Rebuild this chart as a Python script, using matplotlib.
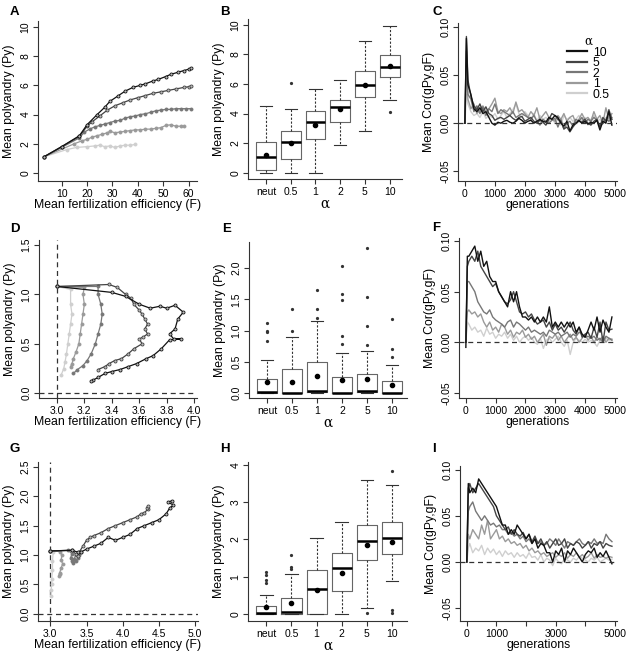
import matplotlib
matplotlib.use("Agg")
import matplotlib.pyplot as plt

plt.rcParams['font.family'] = ['Liberation Sans', 'DejaVu Sans']

W, H = 633, 656

alphas = ["10", "5", "2", "1", "0.5"]
colours = {"10": "#111111", "5": "#444444", "2": "#777777", "1": "#9a9a9a", "0.5": "#cfcfcf"}
groups = ["neut", "0.5", "1", "2", "5", "10"]

# ---------------- A : polyandry vs fertilization efficiency ----------------
a_F = {
    "10": [3, 10, 17, 20, 24, 27, 29, 32, 35, 38, 41, 43, 46, 48, 51, 53, 56, 58, 60, 61],
    "5": [3, 10, 17, 20, 22, 25, 28, 31, 34, 37, 40, 43, 46, 49, 52, 55, 58, 60, 61],
    "2": [3, 17, 19, 21, 23, 25, 27, 29, 31, 33, 35, 37, 39, 41, 43, 45, 47, 49, 51, 53, 55, 57, 59, 61],
    "1": [3, 15, 18, 20, 22, 24, 26, 28, 29, 31, 33, 35, 37, 39, 41, 43, 45, 47, 49, 51, 53, 55, 57, 58],
    "0.5": [3, 12, 16, 20, 23, 25, 27, 29, 31, 33, 35, 37, 39],
}
a_Py = {
    "10": [1.1, 1.8, 2.55, 3.3, 4.0, 4.5, 4.9, 5.25, 5.6, 5.85, 6.0, 6.1, 6.3, 6.4, 6.6, 6.75, 6.9, 7.0, 7.1, 7.15],
    "5": [1.1, 1.8, 2.5, 3.2, 3.5, 3.9, 4.3, 4.6, 4.8, 5.0, 5.15, 5.3, 5.45, 5.55, 5.65, 5.75, 5.85, 5.9, 5.95],
    "2": [1.1, 2.4, 2.8, 3.0, 3.15, 3.25, 3.35, 3.45, 3.55, 3.6, 3.75, 3.85, 3.9, 4.0, 4.05, 4.15, 4.25, 4.3,
          4.35, 4.35, 4.4, 4.4, 4.4, 4.4],
    "1": [1.1, 2.0, 2.2, 2.3, 2.45, 2.55, 2.65, 2.75, 2.85, 2.75, 2.8, 2.85, 2.9, 2.95, 2.95, 3.0, 3.0, 3.05,
          3.1, 3.25, 3.3, 3.2, 3.2, 3.2],
    "0.5": [1.1, 1.6, 1.75, 1.8, 1.85, 1.9, 1.8, 1.85, 1.75, 1.85, 1.9, 1.9, 1.95],
}

# ---------------- D and G : trajectories ----------------
d_F = {
    "0.5": [3.0, 3.1, 3.1, 3.11, 3.1, 3.09, 3.08, 3.07, 3.06, 3.05, 3.03],
    "1": [3.0, 3.2, 3.19, 3.2, 3.19, 3.18, 3.17, 3.16, 3.14, 3.12, 3.11, 3.10],
    "2": [3.0, 3.3, 3.3, 3.32, 3.33, 3.32, 3.3, 3.28, 3.25, 3.22, 3.19, 3.15, 3.12],
    "5": [3.0, 3.38, 3.44, 3.5, 3.54, 3.56, 3.6, 3.62, 3.64, 3.66, 3.64, 3.66, 3.63, 3.6, 3.62, 3.56, 3.52,
          3.47, 3.42, 3.38, 3.35, 3.3],
    "10": [3.0, 3.4, 3.5, 3.6, 3.68, 3.75, 3.8, 3.86, 3.92, 3.88, 3.86, 3.82, 3.85, 3.9, 3.82, 3.76, 3.7,
           3.65, 3.58, 3.52, 3.46, 3.4, 3.35, 3.3, 3.26, 3.25],
}
d_Py = {
    "0.5": [1.08, 1.05, 0.9, 0.8, 0.7, 0.6, 0.5, 0.4, 0.32, 0.25, 0.18],
    "1": [1.08, 1.07, 1.0, 0.9, 0.8, 0.7, 0.6, 0.5, 0.42, 0.35, 0.3, 0.27],
    "2": [1.08, 1.08, 1.0, 0.9, 0.8, 0.7, 0.6, 0.5, 0.4, 0.33, 0.28, 0.24, 0.2],
    "5": [1.08, 1.1, 1.07, 1.0, 0.96, 0.9, 0.84, 0.8, 0.75, 0.7, 0.65, 0.6, 0.57, 0.55, 0.5, 0.45, 0.4,
          0.35, 0.33, 0.3, 0.27, 0.24],
    "10": [1.08, 1.02, 0.98, 0.9, 0.86, 0.88, 0.86, 0.89, 0.82, 0.75, 0.65, 0.6, 0.55, 0.55, 0.54, 0.45,
           0.38, 0.35, 0.3, 0.27, 0.24, 0.22, 0.2, 0.16, 0.13, 0.12],
}
g_F = {
    "0.5": [3.0, 3.04, 3.03, 3.03, 3.02, 3.02, 3.01, 3.01],
    "1": [3.0, 3.13, 3.16, 3.15, 3.17, 3.15, 3.13, 3.12, 3.14],
    "2": [3.0, 3.25, 3.3, 3.28, 3.3, 3.32, 3.35, 3.38, 3.4, 3.42, 3.35, 3.33],
    "5": [3.0, 3.3, 3.35, 3.38, 3.4, 3.45, 3.5, 3.55, 3.6, 3.7, 3.8, 3.9, 4.0, 4.1, 4.2, 4.25, 4.3, 4.35,
          4.33, 4.35],
    "10": [3.0, 3.3, 3.38, 3.42, 3.5, 3.6, 3.7, 3.8, 3.9, 4.0, 4.1, 4.2, 4.3, 4.4, 4.5, 4.6, 4.65, 4.7,
           4.62, 4.68],
}
g_Py = {
    "0.5": [1.07, 1.05, 0.9, 0.75, 0.6, 0.5, 0.4, 0.3],
    "1": [1.07, 1.06, 1.0, 0.92, 0.85, 0.78, 0.7, 0.65, 0.68],
    "2": [1.07, 1.08, 1.02, 0.95, 0.9, 0.86, 0.9, 0.95, 1.0, 1.05, 1.0, 0.93],
    "5": [1.07, 1.08, 1.02, 0.98, 1.05, 1.15, 1.25, 1.3, 1.33, 1.38, 1.45, 1.5, 1.55, 1.6, 1.65, 1.7, 1.72,
          1.78, 1.8, 1.83],
    "10": [1.07, 1.08, 1.05, 1.05, 1.1, 1.15, 1.2, 1.3, 1.25, 1.3, 1.35, 1.45, 1.5, 1.55, 1.6, 1.7, 1.8,
           1.85, 1.9, 1.92],
}

# ---------------- B, E, H : boxplot summaries ----------------
# (whisker low, q1, median, q3, whisker high, mean, outliers)
b_stats = [
    (0, 0.2, 1.05, 2.05, 4.5, 1.2, []),
    (0, 0.9, 2.05, 2.85, 4.3, 2.0, [6.05]),
    (0, 2.3, 3.45, 4.2, 5.65, 3.2, []),
    (1.85, 3.4, 4.45, 4.9, 6.25, 4.3, []),
    (2.85, 5.15, 5.9, 6.9, 8.9, 5.95, []),
    (4.9, 6.5, 7.15, 7.95, 9.9, 7.2, [4.1]),
]
e_stats = [
    (0, 0.0, 0.01, 0.23, 0.53, 0.18, [0.83, 0.97, 1.0, 1.12]),
    (0, 0.0, 0.0, 0.38, 0.9, 0.18, [1.0, 1.35]),
    (0, 0.01, 0.04, 0.49, 1.15, 0.28, [1.2, 1.35, 1.65]),
    (0, 0.0, 0.0, 0.26, 0.64, 0.21, [0.79, 0.92, 1.49, 1.58, 2.03]),
    (0, 0.01, 0.04, 0.3, 0.67, 0.23, [0.77, 1.07, 1.54, 2.33]),
    (0, 0.0, 0.0, 0.19, 0.45, 0.13, [0.58, 0.7, 1.18]),
]
h_stats = [
    (0, 0.0, 0.02, 0.22, 0.52, 0.18, [0.83, 0.9, 1.05, 1.12]),
    (0, 0.0, 0.05, 0.44, 1.08, 0.28, [1.2, 1.27, 1.58]),
    (0, 0.0, 0.68, 1.17, 2.03, 0.65, []),
    (0, 0.62, 1.22, 1.64, 2.48, 1.09, []),
    (0.17, 1.46, 1.97, 2.39, 3.6, 1.85, [0.02]),
    (0.88, 1.62, 2.04, 2.46, 3.45, 1.93, [3.85, 0.1, 0.02]),
]

# ---------------- C, F, I : correlation through time ----------------
gens = [0, 50] + list(range(100, 5000, 100))
c_cor = {
    "10": [0.000, 0.088, 0.040, 0.030, 0.015, 0.012, 0.016, 0.010, 0.012, 0.006,
           0.000, -0.002, 0.001, 0.000, 0.002, 0.003, 0.001, 0.000, 0.002, 0.005,
           0.003, 0.000, 0.002, 0.003, 0.000, 0.002, 0.004, 0.002, 0.001, 0.006,
           0.004, 0.008, 0.006, 0.000, -0.003, 0.002, -0.008, -0.002, 0.000, 0.003,
           0.000, 0.002, -0.001, 0.001, 0.000, 0.003, -0.007, 0.002, 0.000, 0.012,
           -0.002],
    "5": [0.000, 0.090, 0.045, 0.028, 0.018, 0.014, 0.020, 0.012, 0.017, 0.010,
          0.008, 0.003, 0.005, 0.006, 0.004, 0.006, 0.008, 0.005, 0.003, 0.006,
          0.007, 0.002, 0.004, 0.006, 0.002, 0.000, 0.003, 0.001, -0.002, 0.004,
          0.010, 0.008, 0.004, 0.002, -0.006, -0.004, -0.009, -0.004, 0.000, 0.002,
          0.001, 0.004, 0.000, -0.002, 0.002, 0.004, -0.004, 0.006, 0.002, 0.014,
          0.004],
    "2": [0.000, 0.075, 0.030, 0.025, 0.012, 0.018, 0.010, 0.017, 0.008, 0.015,
          0.012, 0.020, 0.010, 0.014, 0.012, 0.010, 0.008, 0.012, 0.006, 0.008,
          0.010, 0.008, 0.006, 0.004, 0.008, 0.002, -0.002, 0.004, 0.002, 0.000,
          0.003, 0.005, -0.004, 0.004, -0.006, 0.000, 0.002, -0.003, 0.004, 0.002,
          0.006, 0.000, 0.004, 0.002, 0.006, 0.003, -0.003, 0.000, 0.004, 0.002,
          0.006],
    "1": [0.000, 0.060, 0.025, 0.015, 0.020, 0.010, 0.014, 0.018, 0.012, 0.015,
          0.020, 0.026, 0.012, 0.010, 0.014, 0.012, 0.016, 0.010, 0.022, 0.012,
          0.014, 0.010, 0.006, 0.012, 0.008, 0.016, 0.004, 0.008, 0.012, 0.006,
          0.004, 0.002, 0.008, 0.004, 0.010, 0.002, 0.006, 0.008, 0.000, 0.004,
          0.010, 0.004, 0.006, 0.002, 0.012, 0.004, 0.008, 0.000, 0.016, 0.004,
          0.010],
    "0.5": [0.000, 0.030, 0.020, 0.012, 0.008, 0.010, 0.006, 0.012, 0.005, 0.008,
            0.006, 0.010, 0.004, 0.008, 0.012, 0.006, 0.010, 0.014, 0.020, 0.010,
            0.006, 0.012, 0.008, 0.004, 0.010, 0.002, 0.008, 0.004, 0.006, 0.002,
            0.006, 0.000, 0.004, -0.002, 0.008, 0.004, 0.006, 0.002, 0.004, 0.008,
            0.002, 0.006, -0.002, 0.004, 0.008, 0.002, 0.004, 0.000, 0.006, 0.002,
            0.004],
}
f_cor = {
    "10": [-0.005, 0.085, 0.085, 0.090, 0.095, 0.080, 0.090, 0.075, 0.080, 0.065,
           0.060, 0.060, 0.050, 0.045, 0.040, 0.035, 0.050, 0.040, 0.050, 0.035,
           0.025, 0.025, 0.022, 0.025, 0.020, 0.025, 0.020, 0.025, 0.020, 0.035,
           0.015, 0.020, 0.015, 0.020, 0.015, 0.020, 0.015, 0.020, 0.010, 0.015,
           0.008, 0.005, 0.012, 0.020, 0.012, 0.025, 0.010, 0.022, 0.015, 0.010,
           0.025],
    "5": [0.000, 0.075, 0.080, 0.085, 0.080, 0.090, 0.075, 0.070, 0.065, 0.060,
          0.055, 0.058, 0.050, 0.045, 0.040, 0.038, 0.042, 0.050, 0.040, 0.030,
          0.028, 0.030, 0.025, 0.028, 0.022, 0.018, 0.020, 0.022, 0.015, 0.020,
          0.012, 0.018, 0.012, 0.015, 0.010, 0.015, 0.020, 0.012, 0.008, 0.015,
          0.005, 0.008, 0.010, 0.004, 0.015, 0.005, 0.020, 0.000, 0.020, 0.012,
          0.013],
    "2": [0.000, 0.060, 0.060, 0.055, 0.050, 0.040, 0.035, 0.030, 0.028, 0.032,
          0.025, 0.022, 0.020, 0.018, 0.015, 0.020, 0.022, 0.015, 0.020, 0.018,
          0.015, 0.012, 0.015, 0.010, 0.012, 0.010, 0.008, 0.010, 0.006, 0.012,
          0.010, 0.008, 0.010, 0.006, 0.008, 0.010, 0.005, 0.008, 0.006, 0.010,
          0.008, 0.005, 0.006, 0.004, 0.006, 0.002, 0.004, 0.000, 0.006, 0.004,
          0.002],
    "1": [0.000, 0.030, 0.032, 0.028, 0.030, 0.025, 0.028, 0.020, 0.015, 0.020,
          0.012, 0.015, 0.010, 0.018, 0.015, 0.008, 0.012, 0.005, 0.010, 0.008,
          0.012, 0.005, 0.008, 0.003, 0.006, 0.000, 0.004, 0.008, -0.003, 0.006,
          0.004, 0.008, 0.002, 0.006, 0.000, 0.004, 0.008, 0.002, 0.005, 0.000,
          0.004, 0.008, 0.002, 0.006, 0.000, 0.005, 0.002, 0.006, 0.000, 0.004,
          0.003],
    "0.5": [0.000, 0.020, 0.018, 0.012, 0.015, 0.010, 0.012, 0.006, 0.014, 0.008,
            0.010, 0.004, 0.008, 0.006, 0.010, 0.004, 0.008, 0.002, 0.006, 0.000,
            0.004, 0.006, 0.002, 0.005, 0.000, -0.002, 0.004, -0.006, 0.002, 0.004,
            0.000, 0.003, 0.006, 0.000, -0.004, 0.002, -0.012, 0.000, 0.004, 0.002,
            0.000, 0.003, 0.000, 0.002, 0.000, -0.004, 0.002, 0.000, 0.004, 0.002,
            0.003],
}
i_cor = {
    "10": [0.000, 0.085, 0.075, 0.080, 0.075, 0.090, 0.085, 0.080, 0.075, 0.070,
           0.065, 0.060, 0.050, 0.040, 0.040, 0.030, 0.035, 0.030, 0.040, 0.035,
           0.030, 0.025, 0.030, 0.020, 0.025, 0.015, 0.020, 0.018, 0.010, 0.010,
           0.000, 0.012, 0.008, 0.015, 0.000, 0.012, 0.008, 0.015, 0.010, 0.005,
           0.000, 0.008, 0.012, 0.010, 0.015, 0.005, 0.010, 0.006, 0.012, 0.005,
           -0.002],
    "5": [0.000, 0.080, 0.085, 0.075, 0.080, 0.085, 0.080, 0.075, 0.070, 0.065,
          0.060, 0.050, 0.045, 0.040, 0.035, 0.038, 0.030, 0.035, 0.030, 0.028,
          0.032, 0.025, 0.030, 0.022, 0.028, 0.020, 0.025, 0.018, 0.022, 0.015,
          0.020, 0.025, 0.018, 0.020, 0.025, 0.015, 0.020, 0.018, 0.022, 0.020,
          0.015, 0.018, 0.022, 0.015, 0.020, 0.018, 0.022, 0.015, 0.020, 0.018,
          0.017],
    "2": [0.000, 0.055, 0.060, 0.065, 0.055, 0.050, 0.045, 0.050, 0.045, 0.040,
          0.042, 0.038, 0.040, 0.035, 0.035, 0.030, 0.032, 0.028, 0.030, 0.025,
          0.028, 0.022, 0.025, 0.020, 0.025, 0.020, 0.022, 0.018, 0.020, 0.025,
          0.022, 0.018, 0.025, 0.020, 0.015, 0.022, 0.020, 0.018, 0.022, 0.025,
          0.020, 0.018, 0.022, 0.020, 0.025, 0.020, 0.022, 0.020, 0.030, 0.025,
          0.022],
    "1": [0.000, 0.030, 0.025, 0.035, 0.030, 0.025, 0.040, 0.030, 0.045, 0.025,
          0.030, 0.035, 0.025, 0.028, 0.022, 0.025, 0.020, 0.022, 0.018, 0.020,
          0.015, 0.018, 0.012, 0.015, 0.010, 0.012, 0.008, 0.010, 0.006, 0.008,
          0.010, 0.005, 0.008, 0.006, 0.010, 0.004, 0.008, 0.006, 0.010, 0.005,
          0.008, 0.004, 0.006, 0.010, 0.004, 0.008, 0.005, 0.006, 0.004, 0.006,
          0.005],
    "0.5": [0.000, 0.015, 0.020, 0.010, 0.015, 0.012, 0.018, 0.008, 0.015, 0.010,
            0.014, 0.008, 0.012, 0.006, 0.012, 0.008, 0.010, 0.005, 0.010, 0.006,
            0.008, 0.004, 0.010, 0.005, 0.006, 0.002, 0.008, 0.000, 0.004, 0.002,
            -0.004, 0.004, 0.000, -0.002, 0.004, 0.002, 0.000, 0.004, 0.002, 0.006,
            0.004, 0.002, 0.000, 0.004, 0.002, 0.005, 0.000, 0.002, 0.004, 0.002,
            0.003],
}

LABEL_FS = 8.8
TICK_FS = 7.5

fig = plt.figure(figsize=(W / 100, H / 100), dpi=100)


def px_axes(l, t, r, b):
    # axes placed by pixel edges of the plot region
    ax = fig.add_axes([l / W, 1 - b / H, (r - l) / W, (b - t) / H])
    ax.spines['top'].set_visible(False)
    ax.spines['right'].set_visible(False)
    for s in ('left', 'bottom'):
        ax.spines[s].set_linewidth(0.8)
        ax.spines[s].set_color('#333333')
    ax.tick_params(length=3.5, width=0.8, pad=2, labelsize=TICK_FS, color='#333333')
    return ax


def fix_yticks(ax, ticks, labels=None):
    ax.set_yticks(ticks)
    ax.set_yticklabels(labels if labels else [str(v) for v in ticks], rotation=90, va='center')


def traj_panel(ax, xs, ys, order):
    for a in order:
        c = colours[a]
        ax.plot(xs[a], ys[a], '-', color=c, lw=0.9, marker='o', ms=2.2,
                mfc='#bbbbbb' if a in ("10", "5") else c, mec=c, mew=0.6)


def box_panel(ax, stats):
    bxp = []
    for s in stats:
        bxp.append(dict(whislo=s[0], q1=s[1], med=s[2], q3=s[3], whishi=s[4], mean=s[5], fliers=s[6]))
    ax.bxp(bxp, positions=range(1, 7), widths=0.8, capwidths=0.5, showmeans=True,
           boxprops=dict(color='#666666', lw=0.8),
           whiskerprops=dict(color='#333333', lw=0.8, linestyle=(0, (2, 1.5))),
           capprops=dict(color='#333333', lw=0.8),
           medianprops=dict(color='black', lw=1.8),
           meanprops=dict(marker='o', mfc='black', mec='black', ms=3),
           flierprops=dict(marker='o', mfc='#333333', mec='#333333', ms=1.3))
    ax.set_xticks(range(1, 7))
    ax.set_xticklabels(groups)
    ax.set_xlabel('α', fontsize=LABEL_FS + 1, family='DejaVu Serif', labelpad=0)
    ax.set_ylabel('Mean polyandry (Py)', fontsize=LABEL_FS, labelpad=4)


def cor_panel(ax, series):
    for a in reversed(alphas):
        ax.plot(gens, series[a], '-', color=colours[a], lw=1.0, label=a)
    ax.axhline(0, color='#333333', lw=0.9, ls=(0, (4, 3)))
    ax.set_xlim(-230, 5070)
    ax.set_xlabel('generations', fontsize=LABEL_FS, labelpad=0)
    ax.set_ylabel('Mean Cor(gPy,gF)', fontsize=LABEL_FS, labelpad=4)


# A
ax = px_axes(38, 21, 197, 181)
traj_panel(ax, a_F, a_Py, ["0.5", "1", "2", "5", "10"])
ax.set_xlim(0.7, 63.3)
ax.set_ylim(-0.55, 10.4)
ax.set_xticks([10, 20, 30, 40, 50, 60])
fix_yticks(ax, [0, 2, 4, 6, 8, 10])
ax.set_xlabel('Mean fertilization efficiency (F)', fontsize=LABEL_FS, labelpad=0)
ax.set_ylabel('Mean polyandry (Py)', fontsize=LABEL_FS, labelpad=4)

# B
ax = px_axes(248, 19, 402, 179)
box_panel(ax, b_stats)
ax.set_xlim(0.27, 6.5)
ax.set_ylim(-0.43, 10.4)
fix_yticks(ax, [0, 2, 4, 6, 8, 10])

# C
ax = px_axes(458, 23, 617, 181)
cor_panel(ax, c_cor)
ax.set_ylim(-0.06, 0.104)
fix_yticks(ax, [-0.05, 0.0, 0.05, 0.10], ['-0.05', '0.00', '0.05', '0.10'])
ax.set_xticks([0, 1000, 2000, 3000, 4000, 5000])
h, l = ax.get_legend_handles_labels()
leg = ax.legend(h[::-1], l[::-1], title='α', loc='upper right', bbox_to_anchor=(1.0, 0.97),
                frameon=False, fontsize=8.8, title_fontsize=8.5, handlelength=1.6, handletextpad=0.5,
                labelspacing=-0.12, borderaxespad=0.2)
leg.get_title().set_family('DejaVu Serif')
for ln in leg.get_lines():
    ln.set_linewidth(1.6)

# D
ax = px_axes(39, 240, 197, 398)
ax.axvline(3.0, color='#333333', lw=0.9, ls=(0, (4, 3)))
ax.axhline(0.0, color='#333333', lw=0.9, ls=(0, (4, 3)))
traj_panel(ax, d_F, d_Py, ["0.5", "1", "2", "5", "10"])
ax.set_xlim(2.87, 4.02)
ax.set_ylim(-0.048, 1.55)
ax.set_xticks([3.0, 3.2, 3.4, 3.6, 3.8, 4.0])
ax.set_xticklabels(['3.0', '3.2', '3.4', '3.6', '3.8', '4.0'])
fix_yticks(ax, [0.0, 0.5, 1.0, 1.5], ['0.0', '0.5', '1.0', '1.5'])
ax.set_xlabel('Mean fertilization efficiency (F)', fontsize=LABEL_FS, labelpad=0)
ax.set_ylabel('Mean polyandry (Py)', fontsize=LABEL_FS, labelpad=4)

# E
ax = px_axes(249, 242, 407, 398)
box_panel(ax, e_stats)
ax.set_xlim(0.27, 6.6)
ax.set_ylim(-0.08, 2.42)
fix_yticks(ax, [0.0, 0.5, 1.0, 1.5, 2.0], ['0.0', '0.5', '1.0', '1.5', '2.0'])

# F
ax = px_axes(459, 238, 617, 398)
cor_panel(ax, f_cor)
ax.set_ylim(-0.055, 0.103)
fix_yticks(ax, [-0.05, 0.0, 0.05, 0.10], ['-0.05', '0.00', '0.05', '0.10'])
ax.set_xticks([0, 1000, 2000, 3000, 4000, 5000])

# G
ax = px_axes(38, 462, 198, 621)
ax.axvline(3.0, color='#333333', lw=0.9, ls=(0, (4, 3)))
ax.axhline(0.0, color='#333333', lw=0.9, ls=(0, (4, 3)))
traj_panel(ax, g_F, g_Py, ["0.5", "1", "2", "5", "10"])
ax.set_xlim(2.83, 5.04)
ax.set_ylim(-0.12, 2.58)
ax.set_xticks([3.0, 3.5, 4.0, 4.5, 5.0])
ax.set_xticklabels(['3.0', '3.5', '4.0', '4.5', '5.0'])
fix_yticks(ax, [0.0, 0.5, 1.0, 1.5, 2.0, 2.5], ['0.0', '0.5', '1.0', '1.5', '2.0', '2.5'])
ax.set_xlabel('Mean fertilization efficiency (F)', fontsize=LABEL_FS, labelpad=0)
ax.set_ylabel('Mean polyandry (Py)', fontsize=LABEL_FS, labelpad=4)

# H
ax = px_axes(248, 462, 407, 621)
box_panel(ax, h_stats)
ax.set_xlim(0.27, 6.6)
ax.set_ylim(-0.19, 4.08)
fix_yticks(ax, [0, 1, 2, 3, 4])

# I
ax = px_axes(460, 466, 617, 621)
cor_panel(ax, i_cor)
ax.set_ylim(-0.064, 0.104)
fix_yticks(ax, [-0.05, 0.0, 0.05, 0.10], ['-0.05', '0.00', '0.05', '0.10'])
ax.set_xticks([0, 1000, 2000, 3000, 4000, 5000])
ax.set_xticklabels(['0', '1000', '', '3000', '', '5000'])

# panel letters
letters = [("A", 10, 12), ("B", 220, 12), ("C", 432, 12),
           ("D", 10, 229), ("E", 222, 229), ("F", 432, 228),
           ("G", 10, 449), ("H", 220, 449), ("I", 432, 449)]
for txt, x, y in letters:
    fig.text(x / W, 1 - y / H, txt, fontsize=9.5, fontweight='bold', va='center', ha='left')

plt.savefig("out.png", dpi=100)
